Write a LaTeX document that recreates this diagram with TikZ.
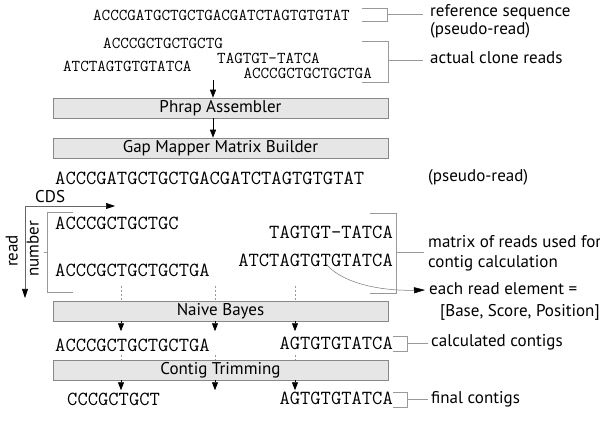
\documentclass[tikz,border=0pt]{standalone}
\usepackage{fontspec}
\newfontfamily\lblfont{PT Sans}
\usetikzlibrary{arrows.meta}
\definecolor{boxfill}{HTML}{E6E6E6}
\definecolor{boxline}{HTML}{888888}
\definecolor{brkcol}{HTML}{999999}
\definecolor{dshcol}{HTML}{999999}
\definecolor{axcol}{HTML}{666666}
\definecolor{curvecol}{HTML}{777777}
\begin{document}
\begin{tikzpicture}[x=1pt,y=-1pt,
 mono/.style={font=\ttfamily\fontsize{16.6}{18}\selectfont, inner sep=0pt},
 monob/.style={font=\ttfamily\fontsize{20}{22}\selectfont, inner sep=0pt},
 lbl/.style={font=\lblfont\fontsize{17}{19}\selectfont, inner sep=0pt, text height=13pt, text depth=4pt, anchor=west},
 procbox/.style={draw=boxline, fill=boxfill, line width=0.6pt, minimum width=335pt, minimum height=20pt, inner sep=0pt, text height=13pt, text depth=4pt, font=\lblfont\fontsize{17}{19}\selectfont},
 brk/.style={draw=brkcol, line width=0.5pt},
 arr/.style={line width=0.8pt, -{Triangle[width=6pt,length=8pt]}},
 dsh/.style={draw=dshcol, line width=0.4pt, dash pattern=on 2pt off 2pt},
 axis/.style={draw=axcol, line width=0.6pt, -{Triangle[width=6pt,length=9pt,color=black]}}]
\useasboundingbox (0,0) rectangle (600,430);
\fill[white] (0,0) rectangle (600,430);

% top reads
\node[mono, anchor=west] (ref) at (93,15) {ACCCGATGCTGCTGACGATCTAGTGTGTAT};
\node[mono, anchor=west] (r1) at (103,43) {ACCCGCTGCTGCTG};
\node[mono, anchor=west] (r2) at (63,66) {ATCTAGTGTGTATCA};
\node[mono, anchor=west] (r3) at (217,58) {TAGTGT-TATCA};
\node[mono, anchor=east] (r4) at (372,73) {ACCCGCTGCTGCTGA};

\draw[brk] (362,8) -- (387,8) -- (387,21) -- (362,21);
\draw[brk] (387,14) -- (423,14);
\node[lbl] (lref1) at (430,12) {reference sequence};
\node[lbl] (lref2) at (430,30) {(pseudo-read)};
\draw[brk] (362,41) -- (388,41) -- (388,82) -- (362,82);
\draw[brk] (388,60) -- (423,60);
\node[lbl] (lclone) at (430,59) {actual clone reads};

% assembler boxes
\node[procbox] (phrap) at (220.5,108) {Phrap Assembler};
\node[procbox] (gap) at (220.5,148) {Gap Mapper Matrix Builder};
\coordinate (a0) at (213,80);
\draw[arr] (a0) -- (a0 |- phrap.north);
\draw[arr] (phrap.south -| a0) -- (gap.north -| a0);

% matrix
\node[monob, anchor=west] (pseudo) at (55,178) {ACCCGATGCTGCTGACGATCTAGTGTGTAT};
\node[lbl] (lpseudo) at (428,177) {(pseudo-read)};
\node[lbl] (cds) at (35,198.5) {CDS};
\coordinate (org) at (25,206);
\coordinate (cdsend) at (115,206);
\coordinate (readend) at (25,298);
\draw[axis] (org) -- (cdsend);
\draw[axis] (org) -- (readend);
\node[lbl, rotate=90, anchor=center] (read) at (13,251) {read};
\node[lbl, rotate=90, anchor=center] (number) at (34,249) {number};

\draw[brk] (73,212) -- (47,212) -- (47,292) -- (73,292);
\draw[brk] (44,252) -- (47,252);
\node[monob, anchor=west] (m1) at (55,223) {ACCCGCTGCTGC};
\node[monob, anchor=west] (m2) at (55,270) {ACCCGCTGCTGCTGA};
\node[monob, anchor=east] (m3) at (393,232) {TAGTGT-TATCA};
\node[monob, anchor=east] (m4) at (393,260) {ATCTAGTGTGTATCA};
\draw[brk] (370,213) -- (396,213) -- (396,293) -- (370,293);
\draw[brk] (396,252) -- (424,252);
\node[lbl] (lmat1) at (428,243) {matrix of reads used for};
\node[lbl] (lmat2) at (428,263) {contig calculation};
\node[lbl] (leach1) at (429,290) {each read element =};
\node[lbl] (leach2) at (440,312) {[Base, Score, Position]};
\coordinate (elem) at (327,265);
\draw[draw=curvecol, line width=0.5pt, -{Triangle[width=6pt,length=11pt,color=black]}] (elem) .. controls (345,285) and (385,291) .. ([xshift=-4pt]leach1.west);

% naive bayes
\node[procbox] (naive) at (220.5,311) {Naive Bayes};
\coordinate (x1) at (121,0);
\coordinate (x2) at (215,0);
\coordinate (x3) at (295,0);
\foreach \c in {x1,x2,x3}{
  \draw[dsh] ([yshift=-286pt]\c) -- (\c |- naive.north);
  \draw[arr] (\c |- naive.south) -- ++(0,10);
}

% contigs
\node[monob, anchor=west] (c1t) at (55,345) {ACCCGCTGCTGCTGA};
\node[monob, anchor=east] (c2t) at (393,343) {AGTGTGTATCA};
\draw[brk] (393,336) -- (407,336) -- (407,351) -- (393,351);
\draw[brk] (407,343) -- (428,343);
\node[lbl] (lcalc) at (431,342) {calculated contigs};

\node[procbox] (trim) at (220.5,370) {Contig Trimming};
\foreach \c in {x1,x2,x3}{
  \draw[dsh] ([yshift=-355pt]\c) -- (\c |- trim.north);
  \draw[arr] (\c |- trim.south) -- ++(0,10);
}

\node[monob, anchor=west] (f1) at (67,399) {CCCGCTGCT};
\node[monob, anchor=east] (f2) at (393,398) {AGTGTGTATCA};
\draw[brk] (393,392) -- (407,392) -- (407,407) -- (393,407);
\draw[brk] (407,399) -- (428,399);
\node[lbl] (lfinal) at (431,399) {final contigs};
\end{tikzpicture}
\end{document}
